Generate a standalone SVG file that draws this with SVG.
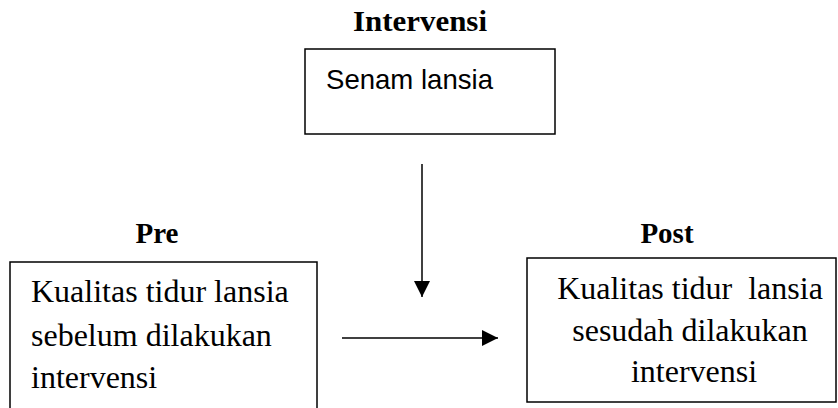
<svg xmlns="http://www.w3.org/2000/svg" width="838" height="408" viewBox="0 0 838 408">
<style>
.box{fill:#fff;stroke:#000;stroke-width:1.5}
.lbl{font-family:"Liberation Serif","Times New Roman",serif;font-weight:bold;font-size:29px;fill:#000}
.txt{font-family:"Liberation Serif","Times New Roman",serif;font-size:32px;fill:#000;white-space:pre}
.sans{font-family:"Liberation Sans",Arial,sans-serif;font-size:28px;fill:#000}
.conn{stroke:#000;stroke-width:1.5;fill:none}
</style>
<defs>
<marker id="ah" viewBox="0 0 16 16" refX="16" refY="8" markerWidth="16" markerHeight="16" markerUnits="userSpaceOnUse" orient="auto">
<path d="M0,0 L16,8 L0,16 Z" fill="#000"/>
</marker>
</defs>
<rect width="838" height="408" fill="#fff"/>
<g id="intervensi">
<text class="lbl" x="420" y="31" text-anchor="middle" textLength="134" lengthAdjust="spacingAndGlyphs">Intervensi</text>
<rect class="box" x="305" y="49" width="250" height="85"/>
<text class="sans" x="326" y="89" textLength="167" lengthAdjust="spacingAndGlyphs">Senam lansia</text>
</g>
<g id="pre">
<text class="lbl" x="157" y="243" text-anchor="middle">Pre</text>
<rect class="box" x="10" y="262" width="307" height="160"/>
<text class="txt" x="31" y="302">Kualitas tidur lansia</text>
<text class="txt" x="31" y="346">sebelum dilakukan</text>
<text class="txt" x="31" y="388">intervensi</text>
</g>
<g id="post">
<text class="lbl" x="667" y="243" text-anchor="middle">Post</text>
<rect class="box" x="527" y="258" width="309" height="144"/>
<text class="txt" x="690" y="299" text-anchor="middle">Kualitas tidur  lansia</text>
<text class="txt" x="690" y="341" text-anchor="middle">sesudah dilakukan</text>
<text class="txt" x="694" y="382" text-anchor="middle">intervensi</text>
</g>
<g id="connectors">
<line class="conn" x1="422" y1="164" x2="422" y2="297" marker-end="url(#ah)" stroke="#333"/>
<line class="conn" x1="342" y1="338" x2="498" y2="338" marker-end="url(#ah)"/>
</g>
</svg>
